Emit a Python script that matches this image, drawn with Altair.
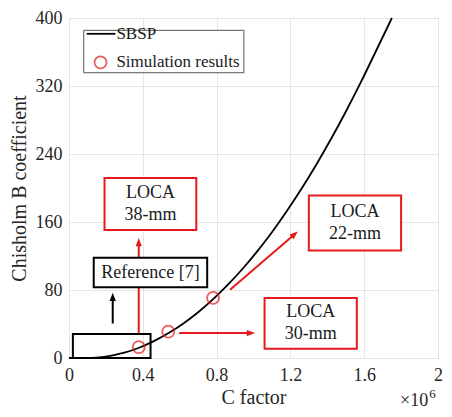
import altair as alt
import pandas as pd

# ---- data ----
c_factor = [0.0, 0.09, 0.15, 0.20, 0.25, 0.30, 0.38, 0.46, 0.54, 0.62, 0.70, 0.78, 0.86,
            0.94, 1.02, 1.10, 1.18, 1.26, 1.34, 1.42, 1.50, 1.58, 1.66, 1.75]
b_coef = [0, 0, 0.5, 1.7, 3.7, 6.3, 12.1, 19.8, 29.3, 40.6, 53.8, 68.9, 85.9,
          104.7, 125.5, 148.0, 172.6, 199.0, 227.4, 257.6, 289.7, 323.6, 359.4, 400]

sim_c = [0.378, 0.538, 0.781]
sim_b = [12.8, 31.0, 70.7]

x_ticks = [0, 0.4, 0.8, 1.2, 1.6, 2]
y_ticks = [0, 80, 160, 240, 320, 400]

# annotation boxes (data units)
box_labels = ["LOCA\n38-mm", "LOCA\n30-mm", "LOCA\n22-mm", "Reference [7]"]
box_c = [0.1925, 1.06, 1.30, 0.134]
box_c2 = [0.69, 1.56, 1.80, 0.749]
box_b = [211.8, 70.7, 191.3, 117.9]
box_b2 = [150.7, 10.8, 126.4, 83.1]
box_col = ["red", "red", "red", "black"]

FONT = "Liberation Serif"
RED = "#e41a1c"
TXT = "#262626"

W, H = 369, 340

xs = alt.Scale(domain=[0, 2], nice=False, zero=False)
ys = alt.Scale(domain=[0, 400], nice=False, zero=False)
xaxis = alt.Axis(values=x_ticks, format="~g", title="C factor", labelFont=FONT, titleFont=FONT,
                 labelFontSize=18, titleFontSize=20, titleFontWeight="normal",
                 labelColor=TXT, titleColor=TXT, labelPadding=8, titlePadding=3,
                 ticks=False, domain=False, grid=True, gridColor="#e6e6e6", labelFlush=False)
yaxis = alt.Axis(values=y_ticks, title="Chisholm B coefficient", labelFont=FONT, titleFont=FONT,
                 labelFontSize=18, titleFontSize=20, titleFontWeight="normal",
                 labelColor=TXT, titleColor=TXT, labelPadding=7, titlePadding=6,
                 ticks=False, domain=False, grid=True, gridColor="#e6e6e6")


def X(f="C"):
    return alt.X(f + ":Q", scale=xs, axis=xaxis)


def Y(f="B"):
    return alt.Y(f + ":Q", scale=ys, axis=yaxis)


curve_df = pd.DataFrame({"C": c_factor, "B": b_coef})
sim_df = pd.DataFrame({"C": sim_c, "B": sim_b})

boxes = pd.DataFrame({"C": box_c, "C2": box_c2, "B": box_b, "B2": box_b2,
                      "label": box_labels, "col": box_col})
boxes["Cm"] = (boxes["C"] + boxes["C2"]) / 2
boxes["Bm"] = (boxes["B"] + boxes["B2"]) / 2
two_line = boxes[boxes["label"].str.contains("\n")]
one_line = boxes[~boxes["label"].str.contains("\n")]

# region box around reference data
region_df = pd.DataFrame({"C": [0.021], "C2": [0.442], "B": [0.0], "B2": [28.2]})

# arrow shafts
shafts = pd.DataFrame({
    "C": [0.378, 0.597, 0.873, 0.237],
    "C2": [0.378, 0.990, 1.223, 0.237],
    "B": [28.2, 29.3, 80.3, 40.6],
    "B2": [137.0, 29.3, 145.7, 72.0],
    "col": ["red", "red", "red", "black"],
})
heads = pd.DataFrame({
    "C": [0.378, 0.986, 1.223, 0.237],
    "B": [136.4, 29.3, 145.7, 71.9],
    "ang": [0, 90, 49, 0],
    "col": ["red", "red", "red", "black"],
})
colscale = alt.Scale(domain=["red", "black"], range=[RED, "black"])

# legend
leg_box = pd.DataFrame({"C": [0.080], "C2": [0.948], "B": [385.5], "B2": [335.6]})
leg_line = pd.DataFrame({"C": [0.096], "C2": [0.251], "B": [381.4]})
leg_pt = pd.DataFrame({"C": [0.171], "B": [347.8]})
leg_txt = pd.DataFrame({"C": [0.257, 0.257], "B": [381.4, 347.8],
                        "t": ["SBSP", "Simulation results"]})

exp_df = pd.DataFrame({"C": [1.947], "t": ["\u00d710"]})
exp6_df = pd.DataFrame({"C": [1.952], "t": ["6"]})

base_curve = alt.Chart(curve_df).mark_line(color="black", strokeWidth=1.8,
                                            interpolate="monotone").encode(x=X(), y=Y())

shaft_layer = alt.Chart(shafts).mark_rule(strokeWidth=2).encode(
    x=X(), y=Y(), x2="C2:Q", y2="B2:Q",
    color=alt.Color("col:N", scale=colscale, legend=None))
head_layer = alt.Chart(heads).mark_point(shape="M0,-1L0.75,1L-0.75,1Z", size=70,
                                         filled=True, opacity=1).encode(
    x=X(), y=Y(), angle=alt.Angle("ang:Q", scale=None),
    color=alt.Color("col:N", scale=colscale, legend=None))

box_layer = alt.Chart(boxes).mark_rect(fill="white", strokeWidth=2).encode(
    x=X(), y=Y(), x2="C2:Q", y2="B2:Q",
    stroke=alt.Stroke("col:N", scale=colscale, legend=None))
box_text2 = alt.Chart(two_line).mark_text(font=FONT, fontSize=18, color="#1a1a1a",
                                          lineBreak="\n", lineHeight=22, dy=-11,
                                          baseline="middle").encode(
    x=X("Cm"), y=Y("Bm"), text="label:N")
box_text1 = alt.Chart(one_line).mark_text(font=FONT, fontSize=18, color="#1a1a1a",
                                          baseline="middle").encode(
    x=X("Cm"), y=Y("Bm"), text="label:N")

region_layer = alt.Chart(region_df).mark_rect(fillOpacity=0, stroke="black",
                                              strokeWidth=2).encode(
    x=X(), y=Y(), x2="C2:Q", y2="B2:Q")

sim_layer = alt.Chart(sim_df).mark_point(shape="circle", size=145, color=RED,
                                         strokeWidth=1.8, filled=False).encode(x=X(), y=Y())

leg_box_layer = alt.Chart(leg_box).mark_rect(fill="white", stroke="#555555",
                                             strokeWidth=1).encode(
    x=X(), y=Y(), x2="C2:Q", y2="B2:Q")
leg_line_layer = alt.Chart(leg_line).mark_rule(color="black", strokeWidth=1.8).encode(
    x=X(), x2="C2:Q", y=Y())
leg_pt_layer = alt.Chart(leg_pt).mark_point(shape="circle", size=145, color=RED,
                                            strokeWidth=1.8, filled=False).encode(x=X(), y=Y())
leg_txt_layer = alt.Chart(leg_txt).mark_text(font=FONT, fontSize=17, color="#1a1a1a",
                                             align="left", baseline="middle").encode(
    x=X(), y=Y(), text="t:N")

exp_layer = alt.Chart(exp_df).mark_text(font=FONT, fontSize=18, color=TXT, align="right",
                                        baseline="alphabetic").encode(
    x=X(), y=alt.value(H + 48), text="t:N")
exp6_layer = alt.Chart(exp6_df).mark_text(font=FONT, fontSize=13, color=TXT, align="left",
                                          baseline="alphabetic").encode(
    x=X(), y=alt.value(H + 40), text="t:N")

chart = alt.layer(
    shaft_layer, box_layer, box_text2, box_text1, region_layer, base_curve, sim_layer,
    head_layer, leg_box_layer, leg_line_layer, leg_pt_layer, leg_txt_layer,
    exp_layer, exp6_layer
).properties(
    width=W, height=H,
    padding={"left": 61, "top": 10, "right": 6, "bottom": 51},
    autosize=alt.AutoSizeParams(type="none"),
    background="white",
).configure_view(stroke="#8a8a8a", strokeWidth=1)

chart.save("out.html", embed_options={"renderer": "svg", "actions": False})
